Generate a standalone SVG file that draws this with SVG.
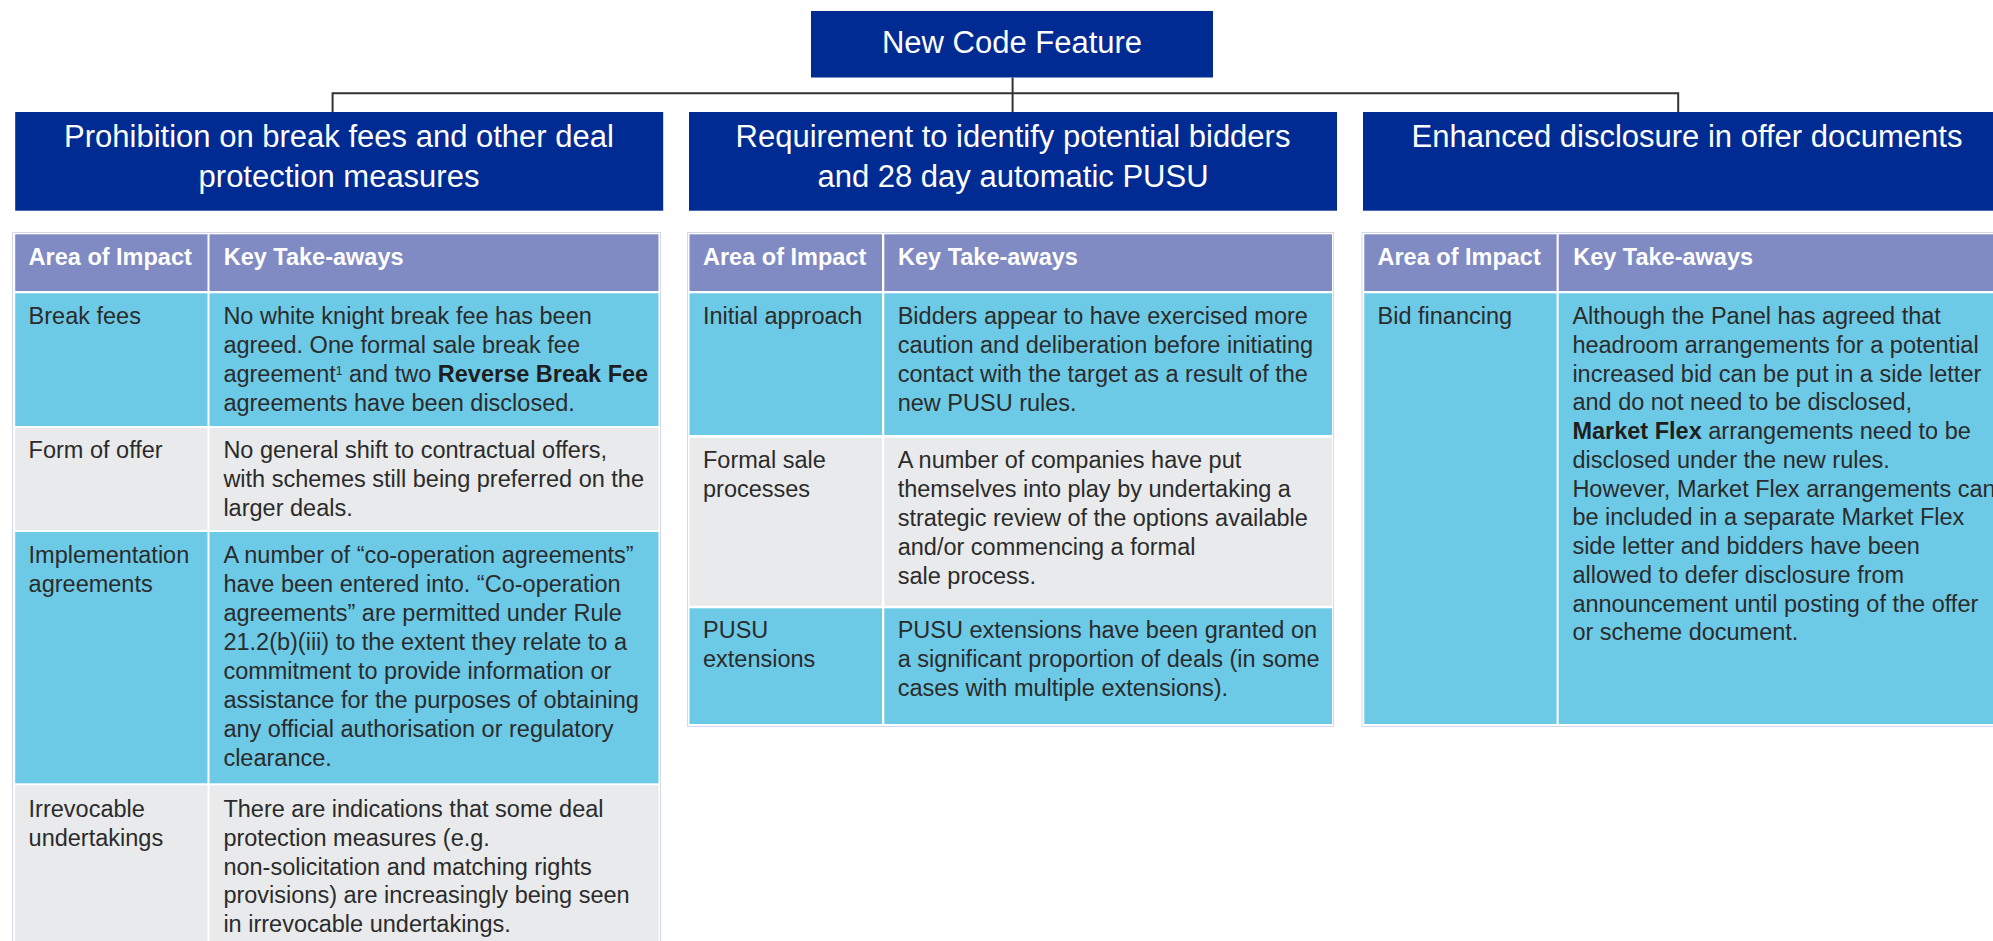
<svg xmlns="http://www.w3.org/2000/svg" width="1993" height="941" viewBox="0 0 1993 941">
  <style>
    text { font-family: "Liberation Sans", Arial, Helvetica, sans-serif; }
    .box { fill: #002B93; }
    .bt { fill: #ffffff; font-size: 31px; text-anchor: middle; }
    .hd { fill: #808AC3; }
    .cy { fill: #6CCAE6; }
    .gr { fill: #E9EAEC; }
    .frame { fill: #ffffff; stroke: #D3D8EC; stroke-width: 1; }
    .ht { fill: #ffffff; font-size: 23.5px; font-weight: bold; }
    .t { fill: #2B2B2B; font-size: 23.5px; }
    .b { font-weight: bold; fill: #1E1E1E; }
    .conn { fill: none; stroke: #333333; stroke-width: 2; }
  </style>

  <g id="connectors">
    <path class="conn" d="M332.6 112 V93.3 H1678.2 V112 M1012.6 77.5 V112"/>
  </g>

  <g id="root">
    <rect class="box" x="811" y="11" width="402" height="66.5"/>
    <text class="bt" x="1012" y="52.7">New Code Feature</text>
  </g>

  <g id="feature-prohibition">
    <rect class="box" x="15.2" y="112" width="648" height="98.7"/>
    <text class="bt" x="339" y="146.7">Prohibition on break fees and other deal</text>
    <text class="bt" x="339" y="186.7">protection measures</text>
  </g>

  <g id="feature-requirement">
    <rect class="box" x="689" y="112" width="648" height="98.7"/>
    <text class="bt" x="1013" y="146.7">Requirement to identify potential bidders</text>
    <text class="bt" x="1013" y="186.7">and 28 day automatic PUSU</text>
  </g>

  <g id="feature-disclosure">
    <rect class="box" x="1363" y="112" width="648" height="98.7"/>
    <text class="bt" x="1687" y="146.7">Enhanced disclosure in offer documents</text>
  </g>

  <g id="table-prohibition">
    <rect class="frame" x="12.5" y="232.5" width="648" height="720"/>
    <rect class="hd" x="15.2" y="234.3" width="192.3" height="56.7"/>
    <rect class="hd" x="209.5" y="234.3" width="449" height="56.7"/>
    <text class="ht" x="28.6" y="265">Area of Impact</text>
    <text class="ht" x="223.7" y="265">Key Take-aways</text>

    <rect class="cy" x="15.2" y="293.3" width="192.3" height="132.7"/>
    <rect class="cy" x="209.5" y="293.3" width="449" height="132.7"/>
    <text class="t" x="28.6" y="324">Break fees</text>
    <text class="t" y="324">
      <tspan x="223.4">No white knight break fee has been</tspan>
      <tspan x="223.4" dy="28.9">agreed. One formal sale break fee</tspan>
      <tspan x="223.4" dy="28.9">agreement<tspan font-size="12" baseline-shift="super">1</tspan> and two <tspan class="b">Reverse Break Fee</tspan></tspan>
      <tspan x="223.4" dy="28.9">agreements have been disclosed.</tspan>
    </text>

    <rect class="gr" x="15.2" y="428" width="192.3" height="102"/>
    <rect class="gr" x="209.5" y="428" width="449" height="102"/>
    <text class="t" x="28.6" y="458.3">Form of offer</text>
    <text class="t" y="458.3">
      <tspan x="223.4">No general shift to contractual offers,</tspan>
      <tspan x="223.4" dy="28.9">with schemes still being preferred on the</tspan>
      <tspan x="223.4" dy="28.9">larger deals.</tspan>
    </text>

    <rect class="cy" x="15.2" y="532" width="192.3" height="251.3"/>
    <rect class="cy" x="209.5" y="532" width="449" height="251.3"/>
    <text class="t" y="563.3">
      <tspan x="28.6">Implementation</tspan>
      <tspan x="28.6" dy="28.9">agreements</tspan>
    </text>
    <text class="t" y="563.3">
      <tspan x="223.4">A number of “co-operation agreements”</tspan>
      <tspan x="223.4" dy="28.9">have been entered into. “Co-operation</tspan>
      <tspan x="223.4" dy="28.9">agreements” are permitted under Rule</tspan>
      <tspan x="223.4" dy="28.9">21.2(b)(iii) to the extent they relate to a</tspan>
      <tspan x="223.4" dy="28.9">commitment to provide information or</tspan>
      <tspan x="223.4" dy="28.9">assistance for the purposes of obtaining</tspan>
      <tspan x="223.4" dy="28.9">any official authorisation or regulatory</tspan>
      <tspan x="223.4" dy="28.9">clearance.</tspan>
    </text>

    <rect class="gr" x="15.2" y="785.3" width="192.3" height="170"/>
    <rect class="gr" x="209.5" y="785.3" width="449" height="170"/>
    <text class="t" y="816.7">
      <tspan x="28.6">Irrevocable</tspan>
      <tspan x="28.6" dy="28.9">undertakings</tspan>
    </text>
    <text class="t" y="816.7">
      <tspan x="223.4">There are indications that some deal</tspan>
      <tspan x="223.4" dy="28.9">protection measures (e.g.</tspan>
      <tspan x="223.4" dy="28.9">non-solicitation and matching rights</tspan>
      <tspan x="223.4" dy="28.9">provisions) are increasingly being seen</tspan>
      <tspan x="223.4" dy="28.9">in irrevocable undertakings.</tspan>
    </text>
  </g>

  <g id="table-requirement">
    <rect class="frame" x="687.5" y="232.5" width="646" height="494"/>
    <rect class="hd" x="689.5" y="234.3" width="192.5" height="56.7"/>
    <rect class="hd" x="884.3" y="234.3" width="447.7" height="56.7"/>
    <text class="ht" x="703" y="265">Area of Impact</text>
    <text class="ht" x="898" y="265">Key Take-aways</text>

    <rect class="cy" x="689.5" y="293.3" width="192.5" height="141.7"/>
    <rect class="cy" x="884.3" y="293.3" width="447.7" height="141.7"/>
    <text class="t" x="703" y="324">Initial approach</text>
    <text class="t" y="324">
      <tspan x="897.7">Bidders appear to have exercised more</tspan>
      <tspan x="897.7" dy="28.9">caution and deliberation before initiating</tspan>
      <tspan x="897.7" dy="28.9">contact with the target as a result of the</tspan>
      <tspan x="897.7" dy="28.9">new PUSU rules.</tspan>
    </text>

    <rect class="gr" x="689.5" y="437.7" width="192.5" height="168"/>
    <rect class="gr" x="884.3" y="437.7" width="447.7" height="168"/>
    <text class="t" y="468.3">
      <tspan x="703">Formal sale</tspan>
      <tspan x="703" dy="28.9">processes</tspan>
    </text>
    <text class="t" y="468.3">
      <tspan x="897.7">A number of companies have put</tspan>
      <tspan x="897.7" dy="28.9">themselves into play by undertaking a</tspan>
      <tspan x="897.7" dy="28.9">strategic review of the options available</tspan>
      <tspan x="897.7" dy="28.9">and/or commencing a formal</tspan>
      <tspan x="897.7" dy="28.9">sale process.</tspan>
    </text>

    <rect class="cy" x="689.5" y="608.3" width="192.5" height="115.7"/>
    <rect class="cy" x="884.3" y="608.3" width="447.7" height="115.7"/>
    <text class="t" y="638.3">
      <tspan x="703">PUSU</tspan>
      <tspan x="703" dy="28.9">extensions</tspan>
    </text>
    <text class="t" y="638.3">
      <tspan x="897.7">PUSU extensions have been granted on</tspan>
      <tspan x="897.7" dy="28.9">a significant proportion of deals (in some</tspan>
      <tspan x="897.7" dy="28.9">cases with multiple extensions).</tspan>
    </text>
  </g>

  <g id="table-disclosure">
    <rect class="frame" x="1362" y="232.5" width="660" height="494"/>
    <rect class="hd" x="1364.3" y="234.3" width="192.3" height="56.7"/>
    <rect class="hd" x="1558.7" y="234.3" width="460" height="56.7"/>
    <text class="ht" x="1377.5" y="265">Area of Impact</text>
    <text class="ht" x="1573.2" y="265">Key Take-aways</text>

    <rect class="cy" x="1364.3" y="293.3" width="192.3" height="430.7"/>
    <rect class="cy" x="1558.7" y="293.3" width="460" height="430.7"/>
    <text class="t" x="1377.5" y="324">Bid financing</text>
    <text class="t" y="324">
      <tspan x="1572.4">Although the Panel has agreed that</tspan>
      <tspan x="1572.4" dy="28.75">headroom arrangements for a potential</tspan>
      <tspan x="1572.4" dy="28.75">increased bid can be put in a side letter</tspan>
      <tspan x="1572.4" dy="28.75">and do not need to be disclosed,</tspan>
      <tspan x="1572.4" dy="28.75"><tspan class="b">Market Flex</tspan> arrangements need to be</tspan>
      <tspan x="1572.4" dy="28.75">disclosed under the new rules.</tspan>
      <tspan x="1572.4" dy="28.75">However, Market Flex arrangements can</tspan>
      <tspan x="1572.4" dy="28.75">be included in a separate Market Flex</tspan>
      <tspan x="1572.4" dy="28.75">side letter and bidders have been</tspan>
      <tspan x="1572.4" dy="28.75">allowed to defer disclosure from</tspan>
      <tspan x="1572.4" dy="28.75">announcement until posting of the offer</tspan>
      <tspan x="1572.4" dy="28.75">or scheme document.</tspan>
    </text>
  </g>
</svg>
